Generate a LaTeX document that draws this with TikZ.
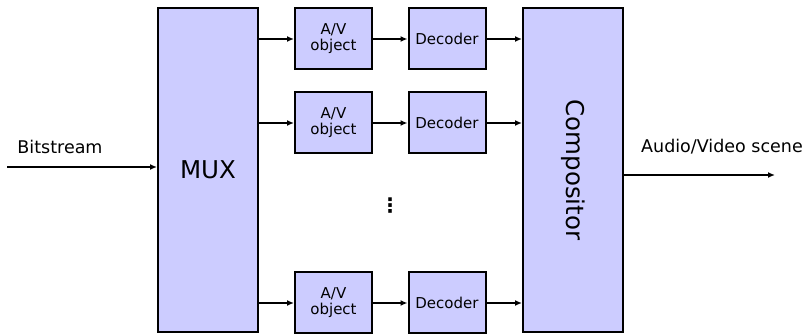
\documentclass[tikz,border=0pt]{standalone}
\usepackage{fontspec}
\setmainfont{DejaVu Sans}
\usetikzlibrary{arrows.meta,positioning}
\definecolor{boxblue}{RGB}{204,204,255}

\begin{document}
\begin{tikzpicture}[x=1pt,y=1pt,
every node/.style={inner sep=0pt},
blk/.style={draw,line width=2pt,fill=boxblue,rectangle,align=center},
small/.style={blk,minimum width=77,minimum height=61,font=\fontsize{15}{16}\selectfont},
big/.style={blk,minimum width=100,minimum height=324,font=\fontsize{24.5}{26}\selectfont},
arr/.style={line width=2pt,-{Latex[length=7pt,width=6pt]}},
lbl/.style={font=\fontsize{17.5}{19}\selectfont}]
\useasboundingbox (0,0) rectangle (807,335);
\node[big] (mux) at (208,165) {MUX};
\node[big] (comp) at (573,165) {\rotatebox{-90}{Compositor}};
\node[small] (av1) at (333.5,296) {A/V\\object};
\node[small] (av2) at (333.5,212) {A/V\\object};
\node[small] (av3) at (333.5,32) {A/V\\object};
\node[small] (dec1) at (447,296) {Decoder};
\node[small] (dec2) at (447,212) {Decoder};
\node[small] (dec3) at (447,32) {Decoder};
\node[font=\fontsize{20}{20}\bfseries] (dots) at (390,129) {⋮};
\coordinate (in) at (7,168);
\coordinate (out) at (775,160);
\node[lbl] (bits) at (60,188) {Bitstream};
\node[lbl] (scene) at (722,188) {Audio/Video scene};
\draw[arr] (in) -- (in -| mux.west);
\draw[arr] (comp.east |- out) -- (out);
\foreach \i in {1,2,3}{
\draw[arr] (mux.east |- av\i.west) -- (av\i);
\draw[arr] (av\i) -- (dec\i);
\draw[arr] (dec\i) -- (dec\i -| comp.west);
}
\end{tikzpicture}
\end{document}
